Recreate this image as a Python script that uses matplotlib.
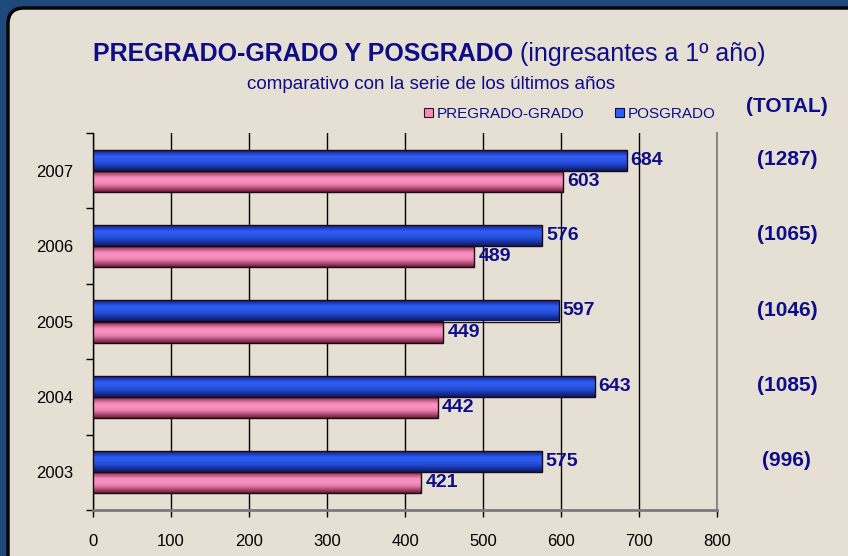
import matplotlib
matplotlib.use("Agg")
import matplotlib.pyplot as plt
import numpy as np
from matplotlib.patches import FancyBboxPatch, Patch
from matplotlib.colors import LinearSegmentedColormap

# ---- data ----
years = ["2003", "2004", "2005", "2006", "2007"]
pregrado = [421, 442, 449, 489, 603]
posgrado = [575, 643, 597, 576, 684]
xticks = [0, 100, 200, 300, 400, 500, 600, 700, 800]
series_names = ["PREGRADO-GRADO", "POSGRADO"]
title_bold = "PREGRADO-GRADO Y POSGRADO"
title_reg = " (ingresantes a 1º año)"
subtitle = "comparativo con la serie de los últimos años"
total_header = "(TOTAL)"

plt.rcParams['font.family'] = ['Liberation Sans', 'DejaVu Sans']
NAVY = "#0d0d88"
W, H = 848, 556
fig = plt.figure(figsize=(W / 100, H / 100), dpi=100)
fig.patch.set_facecolor("#1f497d")

# background panel (pixel coordinates)
bg = fig.add_axes([0, 0, 1, 1])
bg.set_xlim(0, W)
bg.set_ylim(H, 0)
bg.axis("off")
panel = FancyBboxPatch((8, 8), W + 40, H + 40,
                       boxstyle="round,pad=0,rounding_size=16",
                       facecolor="#e6e0d4", edgecolor="#050505", linewidth=2.5)
bg.add_patch(panel)

# main axes
ax = fig.add_axes([93 / W, 1 - 510 / H, 624 / W, 377 / H])
ax.set_facecolor("none")

ypos = np.arange(len(years))
h = 0.28

blue_cmap = LinearSegmentedColormap.from_list(
    "b", ["#0b1660", "#1d39b8", "#2f5ff4", "#2c58ea", "#2349d0", "#1631a0", "#0c1a60"])
pink_cmap = LinearSegmentedColormap.from_list(
    "p", ["#6e1c38", "#b85078", "#f48cbc", "#f890c2", "#e87eae", "#b04c74", "#6a1a34"])
grad = np.linspace(0, 1, 64).reshape(-1, 1)

def grad_bars(values, offset, cmap):
    bars = ax.barh(ypos + offset, values, height=h, facecolor="none",
                   edgecolor="#1a0a14", linewidth=1.0, zorder=4)
    for b in bars:
        x0, y0 = b.get_x(), b.get_y()
        im = ax.imshow(grad, extent=[x0, x0 + b.get_width(), y0, y0 + b.get_height()],
                       aspect="auto", cmap=cmap, origin="upper", zorder=3,
                       interpolation="bilinear")
        im.set_clip_path(b)
    return bars

bars_pos = grad_bars(posgrado, h / 2, blue_cmap)
bars_pre = grad_bars(pregrado, -h / 2, pink_cmap)
ax.set_xlim(0, 800)
ax.set_ylim(-0.5, len(years) - 0.5)

# value labels
for bars, vals in ((bars_pos, posgrado), (bars_pre, pregrado)):
    for b, v in zip(bars, vals):
        ax.annotate(str(v), (v, b.get_y() + b.get_height() / 2),
                    xytext=(3, 0), textcoords="offset points",
                    ha="left", va="center", fontsize=14, fontweight="bold",
                    color=NAVY, zorder=6)

# totals
for y, a, b in zip(ypos, pregrado, posgrado):
    ax.text(1.112, y + 0.15, f"({a + b})", transform=ax.get_yaxis_transform(),
            ha="center", va="center", fontsize=15, fontweight="bold", color=NAVY)
fig.text(787 / W, 1 - 107 / H, total_header, ha="center", va="center",
         fontsize=15, fontweight="bold", color=NAVY)

# grid & spines
ax.set_xticks(xticks)
ax.xaxis.grid(True, color="black", linewidth=1.0)
ax.set_axisbelow(True)
ax.spines["top"].set_visible(False)
ax.spines["right"].set_color("#8a8a8a")
ax.spines["right"].set_linewidth(1.5)
ax.spines["bottom"].set_color("#7a7a7a")
ax.spines["bottom"].set_linewidth(2)
ax.spines["left"].set_color("black")
ax.spines["left"].set_linewidth(1.0)

ax.set_yticks(ypos)
ax.set_yticklabels(years)
ax.set_yticks(np.arange(-0.5, len(years), 1.0), minor=True)
ax.tick_params(axis="y", which="major", length=0, pad=14, labelsize=12, colors="black")
ax.tick_params(axis="y", which="minor", length=5, width=1, color="black")
ax.tick_params(axis="x", which="major", length=5, width=1, pad=12, labelsize=12,
               colors="black", direction="out")

# title
t1 = fig.text(93 / W, 1 - 61 / H, title_bold, ha="left", va="baseline",
              fontsize=18, fontweight="bold", color=NAVY)
fig.canvas.draw()
bb = t1.get_window_extent()
fig.text(bb.x1 / W, 1 - 61 / H, title_reg, ha="left", va="baseline",
         fontsize=18, color=NAVY)
fig.text(431 / W, 1 - 89 / H, subtitle, ha="center", va="baseline",
         fontsize=13.5, color=NAVY)

# legend
handles = [Patch(facecolor="#f48cbc", edgecolor="#3a1020", linewidth=0.8),
           Patch(facecolor="#2f5ff4", edgecolor="#0a1040", linewidth=0.8)]
leg = fig.legend(handles, series_names, loc="center",
                 bbox_to_anchor=(570 / W, 1 - 114 / H), ncol=2, frameon=False,
                 handlelength=0.6, handleheight=0.6, handletextpad=0.25,
                 columnspacing=2.0, fontsize=11)
for t in leg.get_texts():
    t.set_color(NAVY)

fig.savefig("out.png", dpi=100, facecolor=fig.get_facecolor())
